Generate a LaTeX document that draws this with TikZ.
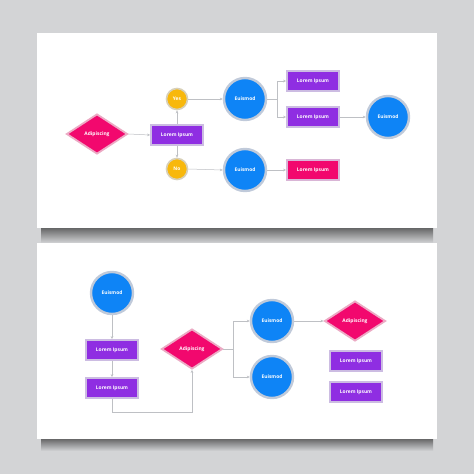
\documentclass[tikz,border=0pt]{standalone}
\usepackage{fontspec}
\setmainfont{Open Sans}
\usetikzlibrary{shapes.geometric,arrows.meta}
\definecolor{bg}{RGB}{211,212,214}
\definecolor{cblue}{RGB}{14,132,246}
\definecolor{cpurple}{RGB}{143,46,226}
\definecolor{cpink}{RGB}{242,8,110}
\definecolor{cyellow}{RGB}{248,184,12}
\definecolor{halo}{RGB}{192,202,218}
\definecolor{rhalo}{RGB}{204,188,226}
\definecolor{phalo}{RGB}{236,170,196}
\definecolor{yhalo}{RGB}{216,208,184}
\definecolor{conn}{RGB}{190,192,196}
\begin{document}
\begin{tikzpicture}[x=1pt,y=-1pt,
  every node/.style={font=\fontsize{4.9}{5.5}\selectfont\bfseries, text=white, inner sep=0pt},
  circ/.style={circle, fill=cblue, draw=halo, line width=2.4pt, minimum size=42pt},
  small/.style={circle, fill=cyellow, draw=yhalo, line width=1.6pt, minimum size=21pt},
  box/.style={rectangle, fill=cpurple, draw=rhalo, line width=1.8pt, minimum width=52pt, minimum height=20pt},
  pbox/.style={box, fill=cpink, draw=rhalo!60!phalo},
  dia/.style={diamond, fill=cpink, draw=phalo, line width=1.8pt, minimum width=61pt, minimum height=40pt},
  conx/.style={draw=conn, line width=0.5pt},
  arr/.style={conx, -{Stealth[length=3pt,width=2.6pt]}}
]
\useasboundingbox (0,0) rectangle (474,474);
\fill[bg] (0,0) rectangle (474,474);
% shadows
\shade[top color=black!55!bg, bottom color=bg] (41,227) rectangle (433,243);
\shade[top color=black!55!bg, bottom color=bg] (41,438) rectangle (433,451);
% panels
\fill[white] (37,33) rectangle (437,228);
\fill[white] (37,243) rectangle (437,439);

% ---- top panel
\node[dia] (d1) at (97,134) {Adipiscing};
\node[box] (r1) at (177,135) {Lorem Ipsum};
\node[small] (yes) at (177,99) {Yes};
\node[small] (no) at (177,169) {No};
\node[circ] (c1) at (245,99) {Euismod};
\node[circ] (c2) at (245,170) {Euismod};
\node[box] (rA) at (313,81) {Lorem Ipsum};
\node[box] (rB) at (313,117) {Lorem Ipsum};
\node[pbox] (rC) at (313,170) {Lorem Ipsum};
\node[circ] (c3) at (388,117) {Euismod};
\coordinate (j1) at (277,99);

\draw[arr] (d1.east) -- (r1.west);
\draw[arr] (r1.north) -- (yes.south);
\draw[arr] (r1.south) -- (no.north);
\draw[arr] (yes.east) -- (c1.west);
\draw[arr] (no.east) -- (c2.west);
\draw[conx] (c1.east) -- (j1);
\draw[arr] (j1) |- (rA.west);
\draw[arr] (j1) |- (rB.west);
\draw[arr] (rB.east) -- (c3.west);
\draw[arr] (c2.east) -- (rC.west);

% ---- bottom panel
\node[circ] (c4) at (112,293) {Euismod};
\node[box] (rD) at (112,350) {Lorem Ipsum};
\node[box] (rE) at (112,388) {Lorem Ipsum};
\node[dia] (d2) at (192,349) {Adipiscing};
\node[circ] (c5) at (272,321) {Euismod};
\node[circ] (c6) at (272,377) {Euismod};
\node[dia] (d3) at (355,321) {Adipiscing};
\node[box] (rF) at (356,361) {Lorem Ipsum};
\node[box] (rG) at (356,392) {Lorem Ipsum};
\coordinate (j2) at (233,349);
\coordinate (b1) at (112,412);

\draw[arr] (c4.south) -- (rD.north);
\draw[arr] (rD.south) -- (rE.north);
\draw[conx] (rE.south) -- (b1);
\draw[arr] (b1) -| (d2.south);
\draw[conx] (d2.east) -- (j2);
\draw[arr] (j2) |- (c5.west);
\draw[arr] (j2) |- (c6.west);
\draw[arr] (c5.east) -- (d3.west);
\end{tikzpicture}
\end{document}
